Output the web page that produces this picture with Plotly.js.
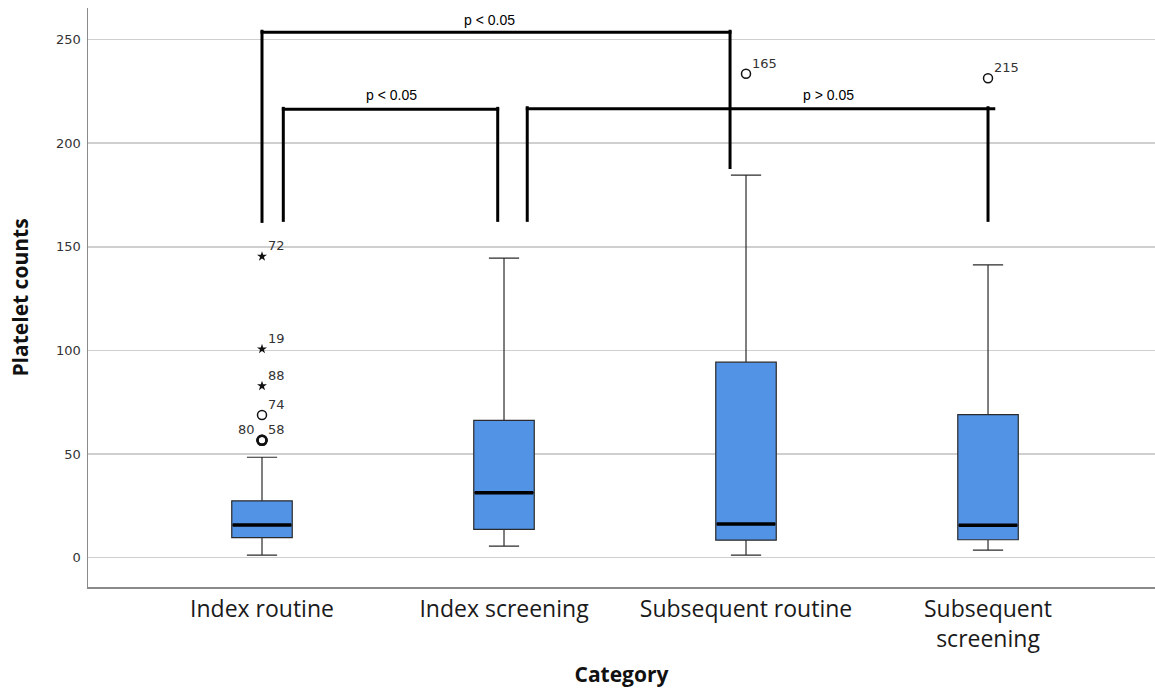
<!DOCTYPE html>
<html>
<head>
<meta charset="utf-8">
<script src="https://cdn.plot.ly/plotly-3.0.1.min.js"></script>
<style>html,body{margin:0;padding:0;background:#fff;}#chart{width:1155px;height:688px;}</style>
</head>
<body>
<div id="chart"></div>
<script>
// ---- data ----
const categories = ["Index routine", "Index screening", "Subsequent routine", "Subsequent<br>screening"];
const lowerWhisker = [1.2, 5.5, 1.2, 3.6];
const q1Values     = [9.6, 13.6, 8.4, 8.6];
const medianValues = [15.7, 31.3, 16.2, 15.6];
const q3Values     = [27.4, 66.2, 94.3, 69.0];
const upperWhisker = [48.4, 144.5, 184.6, 141.2];

// outliers: category index, value, case label, kind
const outlierCat    = [0, 0, 0, 0, 0, 0, 2, 3];
const outlierValue  = [145.3, 100.6, 82.8, 68.8, 56.6, 56.6, 233.5, 231.3];
const outlierLabel  = ["72", "19", "88", "74", "80", "58", "165", "215"];
const outlierKind   = ["star", "star", "star", "circle", "circle", "circle", "circle", "circle"];
const outlierSide   = ["right", "right", "right", "right", "left", "right", "right", "right"];

// significance brackets (category units / values)
const bracketLeft    = [0.0, 0.088, 1.096];
const bracketRight   = [1.934, 0.974, 3.0];
const bracketTop     = [253.5, 216.3, 216.6];
const bracketLeftLow = [161.5, 162.0, 162.0];
const bracketRightLow= [187.5, 162.0, 162.0];
const bracketLabel   = ["p < 0.05", "p < 0.05", "p > 0.05"];
const bracketLabelX  = [0.942, 0.537, 2.339];
const bracketLabelY  = [259.5, 223.0, 223.3];

const yTicks = [0, 50, 100, 150, 200, 250];

// ---- build ----
const positions = categories.map((c, i) => i);
const boxWidth = 0.25;
const traces = [];
positions.forEach((p, i) => {
  traces.push({
    type: 'box',
    x: [p],
    q1: [q1Values[i]], median: [medianValues[i]], q3: [q3Values[i]],
    lowerfence: [lowerWhisker[i]], upperfence: [upperWhisker[i]],
    width: boxWidth,
    whiskerwidth: 0.5,
    fillcolor: '#5293e6',
    line: {color: '#2b2b2b', width: 1.2},
    boxpoints: false,
    hoverinfo: 'skip',
    showlegend: false
  });
});

['circle', 'star'].forEach(kind => {
  const idx = outlierKind.map((k, i) => k === kind ? i : -1).filter(i => i >= 0);
  // coincident points look heavier, as in the source chart
  const dup = idx.map(i => outlierValue.filter((v, j) => v === outlierValue[i] && outlierCat[j] === outlierCat[i]).length);
  traces.push({
    type: 'scatter', mode: 'markers',
    x: idx.map(i => outlierCat[i]), y: idx.map(i => outlierValue[i]),
    marker: kind === 'circle'
      ? {symbol: 'circle-open', size: 9, color: '#111', line: {width: dup.map(d => d > 1 ? 2.6 : 1.5), color: '#111'}}
      : {symbol: 'star', size: 7.5, color: '#111', line: {width: 0}},
    hoverinfo: 'skip', showlegend: false
  });
});

const shapes = [];
// thick median lines
positions.forEach((p, i) => {
  shapes.push({type: 'line', xref: 'x', yref: 'y',
    x0: p - boxWidth / 2 + 0.004, x1: p + boxWidth / 2 - 0.004,
    y0: medianValues[i], y1: medianValues[i],
    line: {color: '#000', width: 3.5}, layer: 'above'});
});
// brackets
bracketLabel.forEach((lab, i) => {
  const L = bracketLeft[i], R = bracketRight[i], T = bracketTop[i];
  const lw = 3;
  shapes.push({type: 'line', x0: L, x1: L, y0: bracketLeftLow[i], y1: T + 1.2, line: {color: '#000', width: lw}});
  shapes.push({type: 'line', x0: R, x1: R, y0: bracketRightLow[i], y1: T + 1.2, line: {color: '#000', width: lw}});
  shapes.push({type: 'line', x0: L - 0.006, x1: R + (i === 2 ? 0.03 : 0.006), y0: T, y1: T, line: {color: '#000', width: lw}});
});

const annotations = [];
bracketLabel.forEach((lab, i) => {
  annotations.push({x: bracketLabelX[i], y: bracketLabelY[i], xref: 'x', yref: 'y', text: lab,
    showarrow: false, font: {family: 'Liberation Sans, Arial, sans-serif', size: 14, color: '#000'}});
});
outlierLabel.forEach((lab, i) => {
  const right = outlierSide[i] === 'right';
  annotations.push({x: outlierCat[i], y: outlierValue[i], xref: 'x', yref: 'y', text: lab,
    showarrow: false, xanchor: right ? 'left' : 'right', yanchor: 'bottom',
    xshift: right ? 4 : -5, yshift: 1,
    font: {family: 'DejaVu Sans, sans-serif', size: 13, color: '#333'}});
});

const humanist = '"Open Sans", "Noto Sans", sans-serif';
const layout = {
  width: 1155, height: 688,
  margin: {l: 88, r: 0, t: 8, b: 101},
  paper_bgcolor: '#fff', plot_bgcolor: '#fff',
  showlegend: false,
  xaxis: {
    range: [-0.719, 3.69],
    tickvals: positions, ticktext: categories,
    showgrid: false, zeroline: false,
    showline: true, linecolor: '#8a8a8a', linewidth: 1.5,
    ticks: '', ticklabelstandoff: 1,
    tickfont: {family: humanist, size: 23, color: '#1a1a1a'},
    title: {text: 'Category', font: {family: humanist, size: 21, color: '#111', weight: 'bold'}, standoff: 20}
  },
  yaxis: {
    range: [-14.2, 265.2],
    tickvals: yTicks,
    showgrid: true, gridcolor: '#cfcfcf', gridwidth: 1.6,
    zeroline: false,
    showline: true, linecolor: '#8a8a8a', linewidth: 1.5,
    ticks: '', ticklabelstandoff: 3,
    tickfont: {family: 'DejaVu Sans, sans-serif', size: 13, color: '#333'},
    title: {text: 'Platelet counts', font: {family: humanist, size: 21, color: '#111', weight: 'bold'}, standoff: 21}
  },
  shapes: shapes,
  annotations: annotations
};

Plotly.newPlot('chart', traces, layout, {displayModeBar: false, staticPlot: true});
</script>
</body>
</html>
